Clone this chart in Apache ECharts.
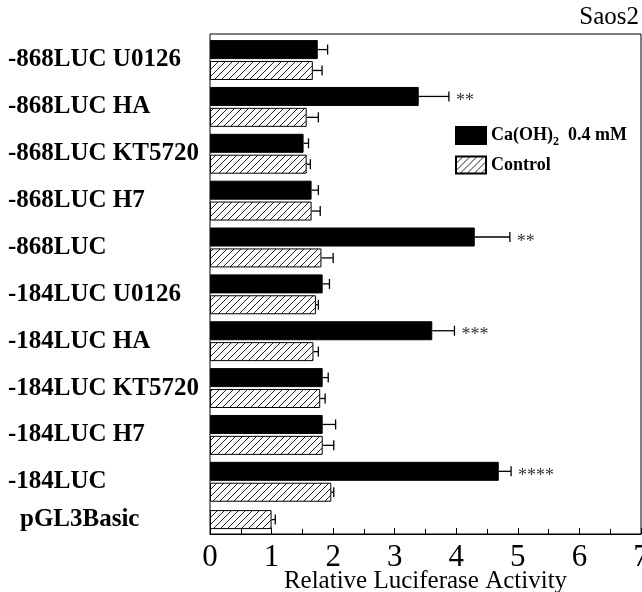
<!DOCTYPE html>
<html>
<head>
<meta charset="utf-8">
<script src="https://cdn.jsdelivr.net/npm/echarts@6/dist/echarts.min.js"></script>
<style>
  html, body { margin: 0; padding: 0; background: #fff; }
  #chart { width: 642px; height: 592px; }
</style>
</head>
<body>
<div id="chart"></div>
<script>
// Constructs and their measured activity (mean ± error), top to bottom
const categories = [
  '-868LUC U0126', '-868LUC HA', '-868LUC KT5720', '-868LUC H7', '-868LUC',
  '-184LUC U0126', '-184LUC HA', '-184LUC KT5720', '-184LUC H7', '-184LUC'
];
const treated    = [1.75, 3.39, 1.52, 1.65, 4.30, 1.83, 3.61, 1.83, 1.83, 4.69];
const treatedErr = [0.16, 0.49, 0.08, 0.11, 0.57, 0.11, 0.36, 0.09, 0.21, 0.20];
const control    = [1.67, 1.57, 1.57, 1.65, 1.81, 1.72, 1.68, 1.79, 1.83, 1.97];
const controlErr = [0.15, 0.19, 0.06, 0.14, 0.19, 0.04, 0.08, 0.08, 0.18, 0.04];
const significance = ['', '**', '', '', '**', '', '***', '', '', '****'];

// Empty-vector baseline row
const baseCategory = ['pGL3Basic'];
const baseValue = [1.00];
const baseErr = [0.06];

const xTicks = [0, 1, 2, 3, 4, 5, 6, 7];

const treatedName = 'Ca(OH)2 0.4 mM';
const controlName = 'Control';

// Diagonal hatch fill for the control bars
function makeHatch() {
  const s = 7;
  const c = document.createElement('canvas');
  c.width = s; c.height = s;
  const g = c.getContext('2d');
  g.fillStyle = '#fff';
  g.fillRect(0, 0, s, s);
  g.strokeStyle = '#222';
  g.lineWidth = 1;
  g.beginPath();
  g.moveTo(-1, s + 1); g.lineTo(s + 1, -1);
  g.moveTo(-1, 1); g.lineTo(1, -1);
  g.moveTo(s - 1, s + 1); g.lineTo(s + 1, s - 1);
  g.stroke();
  return c;
}
const hatch = { image: makeHatch(), repeat: 'repeat' };

const SERIF = '"Liberation Serif", "Times New Roman", serif';
const BAR_W = 19;
const GAP_RATIO = 0.1;
const SHIFT = (BAR_W + BAR_W * GAP_RATIO) / 2;
const CAP = 5;

function errorRenderer(offset, marks) {
  return function (params, api) {
    const idx = api.value(0);
    const v = api.value(1);
    const e = api.value(2);
    const a = api.coord([v, idx]);
    const b = api.coord([v + e, idx]);
    const y = a[1] + offset;
    const style = { stroke: '#000', lineWidth: 1.3, fill: null };
    const children = [
      { type: 'line', shape: { x1: a[0], y1: y, x2: b[0], y2: y }, style: style },
      { type: 'line', shape: { x1: b[0], y1: y - CAP, x2: b[0], y2: y + CAP }, style: style }
    ];
    const m = marks ? marks[params.dataIndex] : '';
    if (m) {
      children.push({
        type: 'text',
        x: b[0] + 7, y: y + 5,
        style: {
          text: m, fill: '#333', font: '18px ' + SERIF,
          textAlign: 'left', textVerticalAlign: 'middle'
        }
      });
    }
    return { type: 'group', children: children };
  };
}

const chart = echarts.init(document.getElementById('chart'), null, { renderer: 'canvas' });

const labelStyle = {
  color: '#000', fontFamily: SERIF, fontWeight: 'bold', fontSize: 25, align: 'left'
};

chart.setOption({
  animation: false,
  backgroundColor: '#fff',
  title: {
    text: 'Saos2', right: 3, top: 5, padding: 0,
    textStyle: { fontFamily: SERIF, fontWeight: 'normal', fontSize: 25, color: '#000' }
  },
  legend: {
    data: [treatedName, controlName],
    orient: 'vertical', left: 455, top: 126, padding: 0,
    itemWidth: 30, itemHeight: 17, itemGap: 8,
    icon: 'rect',
    selectedMode: false,
    formatter: function (name) {
      if (name === treatedName) return '{t|Ca(OH)}{s|2}{t|  0.4 mM}';
      return '{t|' + name + '}';
    },
    textStyle: {
      rich: {
        t: { fontFamily: SERIF, fontWeight: 'bold', fontSize: 18, color: '#000', lineHeight: 24, verticalAlign: 'middle' },
        s: { fontFamily: SERIF, fontWeight: 'bold', fontSize: 12, color: '#000', lineHeight: 12, verticalAlign: 'bottom' }
      }
    }
  },
  grid: [
    { left: 210, right: 1, top: 36.6, height: 468.6, outerBoundsMode: 'none' },
    { left: 210, right: 1, top: 505.2, bottom: 58, outerBoundsMode: 'none' },
    { left: 210, right: 1, top: 34, bottom: 58, outerBoundsMode: 'none', show: true, borderColor: '#000', borderWidth: 1, backgroundColor: 'transparent' }
  ],
  xAxis: [
    { gridIndex: 0, type: 'value', min: 0, max: 7, show: false },
    {
      gridIndex: 1, type: 'value', min: 0, max: 7, interval: 1,
      axisLine: { show: true, lineStyle: { color: '#000', width: 1 } },
      axisTick: { show: true, inside: true, length: 6, lineStyle: { color: '#000' } },
      minorTick: { show: true, splitNumber: 2, length: 5, lineStyle: { color: '#000' } },
      splitLine: { show: false },
      axisLabel: {
        color: '#000', fontFamily: SERIF, fontSize: 31, margin: 8,
        formatter: function (v) { return xTicks.indexOf(v) >= 0 ? String(v) : ''; }
      },
      name: 'Relative Luciferase Activity', nameLocation: 'middle', nameGap: 35,
      nameMoveOverlap: false,
      nameTextStyle: { color: '#000', fontFamily: SERIF, fontSize: 25 }
    },
    { gridIndex: 2, type: 'value', min: 0, max: 7, show: false }
  ],
  yAxis: [
    {
      gridIndex: 0, type: 'category', data: categories, inverse: true,
      axisLine: { show: false }, axisTick: { show: false },
      axisLabel: Object.assign({ margin: 202 }, labelStyle)
    },
    {
      gridIndex: 1, type: 'category', data: baseCategory,
      axisLine: { show: false }, axisTick: { show: false },
      axisLabel: Object.assign({ margin: 190 }, labelStyle)
    },
    { gridIndex: 2, type: 'value', show: false }
  ],
  series: [
    {
      name: treatedName, type: 'bar', xAxisIndex: 0, yAxisIndex: 0,
      data: treated, barWidth: BAR_W, barGap: (GAP_RATIO * 100) + '%',
      itemStyle: { color: '#000', borderColor: '#000', borderWidth: 1 }
    },
    {
      name: controlName, type: 'bar', xAxisIndex: 0, yAxisIndex: 0,
      data: control, barWidth: BAR_W, barGap: (GAP_RATIO * 100) + '%',
      itemStyle: { color: hatch, borderColor: '#000', borderWidth: 1 }
    },
    {
      type: 'custom', xAxisIndex: 0, yAxisIndex: 0, z: 5, clip: false,
      data: treated.map(function (v, i) { return [i, v, treatedErr[i]]; }),
      encode: { x: 1, y: 0 },
      renderItem: errorRenderer(-SHIFT, significance)
    },
    {
      type: 'custom', xAxisIndex: 0, yAxisIndex: 0, z: 5, clip: false,
      data: control.map(function (v, i) { return [i, v, controlErr[i]]; }),
      encode: { x: 1, y: 0 },
      renderItem: errorRenderer(SHIFT, null)
    },
    {
      name: controlName, type: 'bar', xAxisIndex: 1, yAxisIndex: 1,
      data: baseValue, barWidth: BAR_W,
      itemStyle: { color: hatch, borderColor: '#000', borderWidth: 1 }
    },
    {
      type: 'custom', xAxisIndex: 1, yAxisIndex: 1, z: 5, clip: false,
      data: baseValue.map(function (v, i) { return [i, v, baseErr[i]]; }),
      encode: { x: 1, y: 0 },
      renderItem: errorRenderer(0, null)
    }
  ]
});
</script>
</body>
</html>
